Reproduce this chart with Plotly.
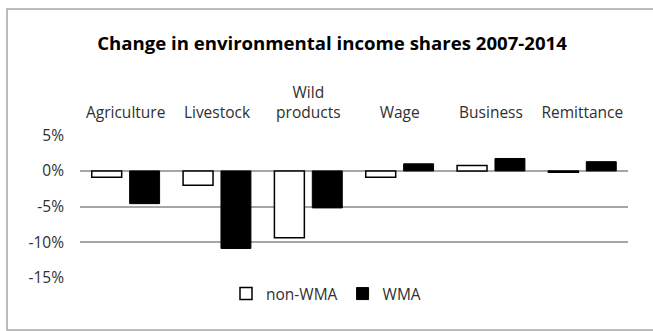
import plotly.graph_objects as go

categories = ["Agriculture", "Livestock", "Wild<br>products", "Wage", "Business", "Remittance"]
non_wma = [-0.9, -2.0, -9.4, -0.9, 0.75, -0.2]
wma = [-4.6, -10.9, -5.2, 1.0, 1.75, 1.3]
tick_vals = [5, 0, -5, -10, -15]
tick_text = ["5%", "0%", "-5%", "-10%", "-15%"]

FONT = "Open Sans"
TOP, BOTTOM, LEFT, RIGHT = 135, 278, 80, 628
PH = BOTTOM - TOP
PW = RIGHT - LEFT

fig = go.Figure()
fig.add_trace(go.Bar(x=categories, y=non_wma, name="non-WMA",
                     marker=dict(color="white", line=dict(color="black", width=1.5))))
fig.add_trace(go.Bar(x=categories, y=wma, name="WMA",
                     marker=dict(color="black", line=dict(color="black", width=1))))

fig.update_layout(
    width=653, height=331,
    margin=dict(l=LEFT, r=653 - RIGHT, t=TOP, b=331 - BOTTOM),
    paper_bgcolor="white", plot_bgcolor="white",
    barmode="group", bargap=0.17, bargroupgap=0.21,
    font=dict(family=FONT, size=15.5, color="#303030"),
    title=dict(text="<b>Change in environmental income shares 2007-2014</b>",
               x=332 / 653, xanchor="center", xref="container",
               y=1 - 43 / 331, yanchor="middle", yref="container",
               font=dict(family=FONT, size=18.6, color="black")),
    xaxis=dict(side="top", showgrid=False, showline=False, ticks="",
               tickfont=dict(size=15.5, color="#303030"), ticklabelstandoff=13),
    yaxis=dict(range=[-15.05, 5.05], tickvals=tick_vals, ticktext=tick_text,
               showgrid=True, gridcolor="#a6a6a6", gridwidth=1.5,
               zeroline=False, showline=False, ticks="",
               tickfont=dict(size=15.5, color="#303030"), ticklabelstandoff=15),
    legend=dict(orientation="h", x=(326 - LEFT) / PW, xanchor="center",
                y=(BOTTOM - 294) / PH, yanchor="middle",
                font=dict(size=15.5, color="#303030"), itemwidth=30,
                traceorder="normal", bgcolor="rgba(0,0,0,0)"),
    shapes=[dict(type="rect", xref="paper", yref="paper",
                 x0=(7 - LEFT) / PW, x1=1.1, y0=(BOTTOM - 330) / PH, y1=(BOTTOM - 9) / PH,
                 line=dict(color="#a6a6a6", width=1.5), fillcolor="rgba(0,0,0,0)",
                 layer="below")],
)

fig.write_html("out.html")
